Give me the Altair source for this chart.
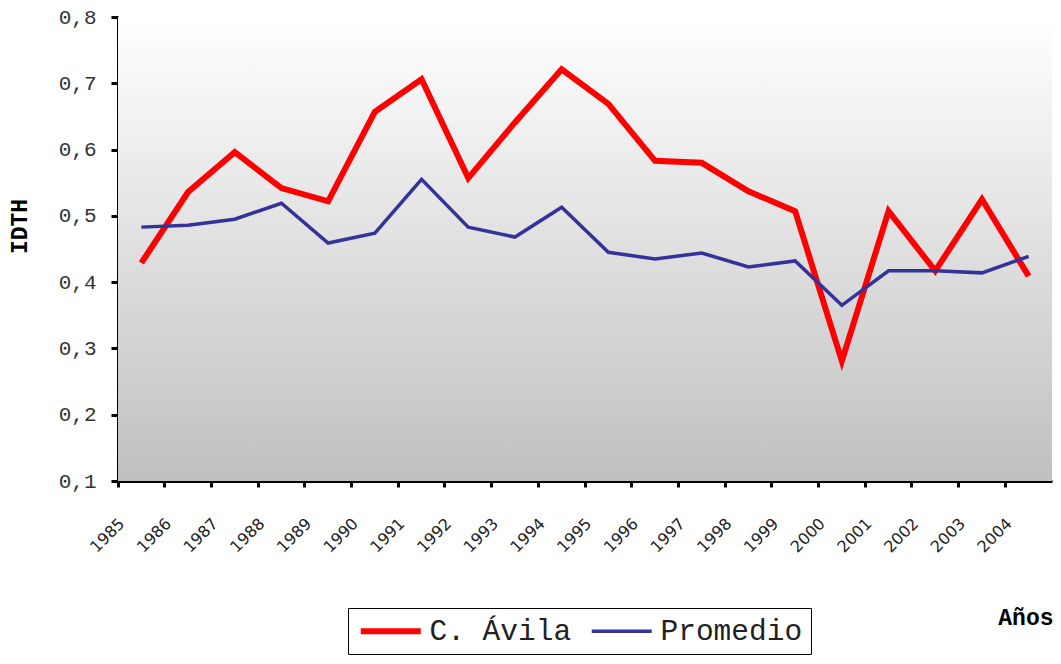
import altair as alt
import pandas as pd

years = [str(y) for y in range(1985, 2005)]
avila = [0.429, 0.536, 0.596, 0.542, 0.522, 0.657, 0.706, 0.557, 0.641, 0.721,
         0.669, 0.583, 0.580, 0.537, 0.507, 0.281, 0.507, 0.417, 0.525, 0.409]
promedio = [0.483, 0.486, 0.495, 0.519, 0.459, 0.474, 0.555, 0.483, 0.468, 0.513,
            0.445, 0.435, 0.444, 0.423, 0.432, 0.365, 0.417, 0.417, 0.414, 0.439]
series = ["C. Ávila", "Promedio"]
colors = ["#FF0000", "#333399"]
widths = [6, 3.5]
y_ticks = [0.1, 0.2, 0.3, 0.4, 0.5, 0.6, 0.7, 0.8]

df = pd.DataFrame({
    "Año": years * 2,
    "IDTH": avila + promedio,
    "Serie": [series[0]] * len(years) + [series[1]] * len(years),
})

mono = "Liberation Mono"

bg = alt.Chart(pd.DataFrame({"k": [0]})).mark_rect(
    color=alt.Gradient(
        gradient="linear",
        stops=[alt.GradientStop(color="#FFFFFF", offset=0),
               alt.GradientStop(color="#C0C0C0", offset=1)],
        x1=0, x2=0, y1=0, y2=1,
    )
).encode(x=alt.value(0), x2=alt.value("width"), y=alt.value(0), y2=alt.value("height"))

legend_def = alt.Legend(
    title=None, orient="none", legendX=230, legendY=591, direction="horizontal",
    strokeColor="black", fillColor="white", padding=8,
    symbolType="M-1,0H5", symbolSize=400, labelFont=mono, labelFontSize=29.5,
    labelColor="#222222", labelOffset=44, columnPadding=12,
)

lines = alt.Chart(df).mark_line(strokeJoin="miter").encode(
    x=alt.X("Año:O", bandPosition=0.5,
            scale=alt.Scale(type="band", domain=years, paddingInner=0, paddingOuter=0),
            axis=alt.Axis(
                title="Años", bandPosition=0, labelAngle=-45, labelAlign="right",
                labelBaseline="top", labelPadding=28, labelOffset=-25,
                labelFont="DejaVu Sans", labelFontSize=16, labelColor="#222222",
                labelFlush=False, labelOverlap=False,
                domainColor="black", domainWidth=3, tickColor="black", tickWidth=3,
                tickSize=6, grid=False,
                titleFont=mono, titleFontWeight="bold", titleFontSize=23,
                titleX=935, titleY=143, titleAlign="right", titleBaseline="alphabetic",
            )),
    y=alt.Y("IDTH:Q",
            scale=alt.Scale(domain=[0.1, 0.8], nice=False, zero=False),
            axis=alt.Axis(
                title="IDTH", values=y_ticks,
                labelExpr="replace(format(datum.value, '.1f'), '.', ',')",
                labelFont=mono, labelFontSize=21, labelColor="#333333", labelPadding=15,
                domainColor="black", domainWidth=3, tickColor="black", tickWidth=3,
                tickSize=7, grid=False,
                titleFont=mono, titleFontWeight="bold", titleFontSize=23,
                titleX=-99, titleY=209, titleAngle=270, titleAlign="center",
                titleBaseline="middle",
            )),
    color=alt.Color("Serie:N", scale=alt.Scale(domain=series, range=colors), legend=legend_def),
    strokeWidth=alt.StrokeWidth("Serie:N", scale=alt.Scale(domain=series, range=widths),
                                legend=legend_def),
)

chart = alt.layer(bg, lines).properties(
    width=934, height=464,
    autosize=alt.AutoSizeParams(type="none"),
    padding={"left": 110, "top": 9, "right": 1, "bottom": 175},
    background="white",
).configure_view(stroke=None)

chart.save("out.html", embed_options={"renderer": "svg", "actions": False})
